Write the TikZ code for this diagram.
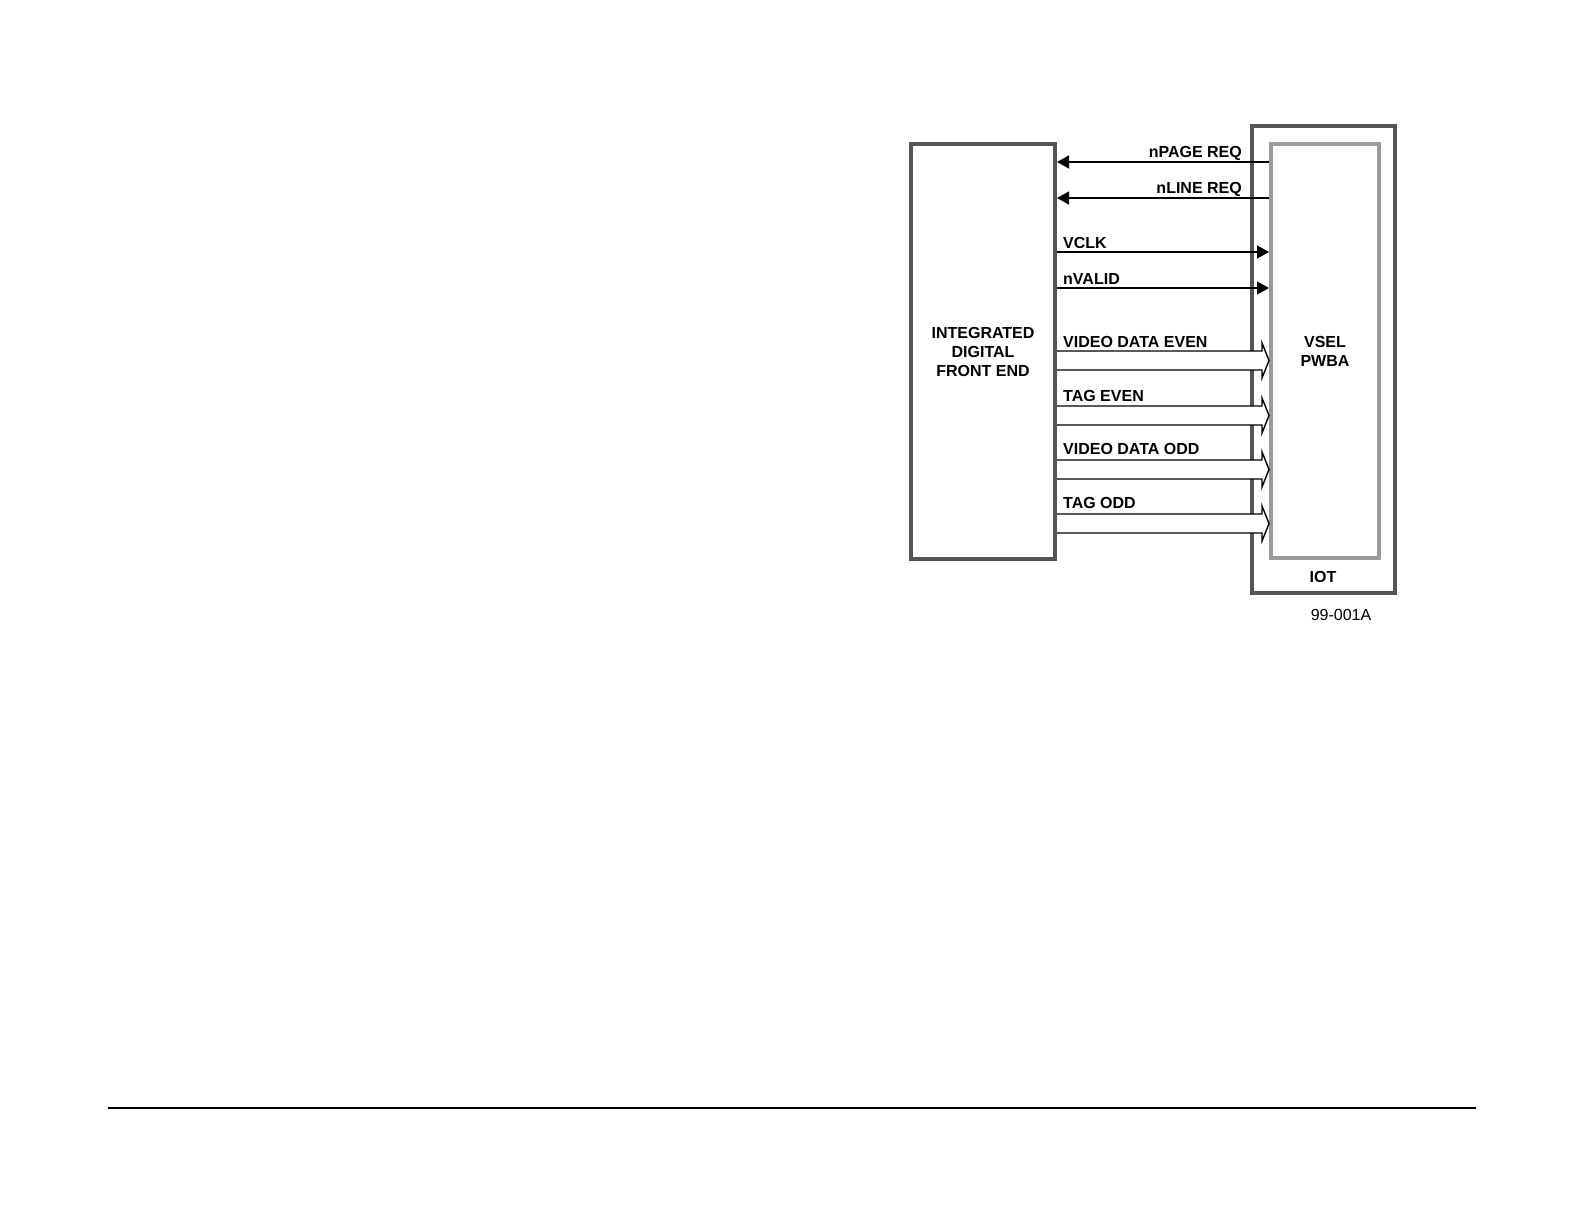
\documentclass[tikz,border=0pt]{standalone}
\usepackage{fontspec}
\setmainfont{Liberation Sans}
\usetikzlibrary{arrows.meta}
\definecolor{darkbox}{HTML}{555555}
\definecolor{lightbox}{HTML}{9A9A9A}
\begin{document}
\begin{tikzpicture}[x=1pt,y=-1pt,
  box/.style={draw=darkbox,line width=4pt,inner sep=0pt,align=center,font=\fontsize{16}{19}\selectfont\bfseries},
  lab/.style={inner sep=0pt,font=\fontsize{16}{19}\selectfont\bfseries},
  sig/.style={line width=1.4pt,-{Triangle[length=12pt,width=13pt]}},
  bus/.style={draw=black,fill=white,line width=1.4pt,line join=miter}]
\useasboundingbox (0,0) rectangle (1584,1224);
\node[box,minimum width=143pt,minimum height=467pt] (iot) at (1323.5,359.5) {};
\node[box,draw=lightbox,minimum width=108pt,minimum height=414pt] (vsel) at (1325,351) {VSEL\\PWBA};
\node[box,minimum width=144pt,minimum height=415pt] (idfe) at (983,351.5) {INTEGRATED\\DIGITAL\\FRONT END};
\node[lab] (iotlab) at (1323,577) {IOT};
\node[inner sep=0pt,font=\fontsize{16}{19}\selectfont] (fig) at (1341,615) {99-001A};
% single signal lines
\draw[sig] (vsel.west |- {(0,162)}) -- (idfe.east |- {(0,162)});
\draw[sig] (vsel.west |- {(0,198)}) -- (idfe.east |- {(0,198)});
\draw[sig] (idfe.east |- {(0,252)}) -- (vsel.west |- {(0,252)});
\draw[sig] (idfe.east |- {(0,288)}) -- (vsel.west |- {(0,288)});
% bus arrows
\foreach \t in {351,406,460,514}{
  \draw[bus] (idfe.east |- {(0,\t)}) -- (1262,\t) -- (1262,\t-8) -- (vsel.west |- {(0,\t+9.5)}) -- (1262,\t+27) -- (1262,\t+19) -- (idfe.east |- {(0,\t+19)});
}
% labels
\node[lab,anchor=base east] (l1) at (1242,157.5) {nPAGE REQ};
\node[lab,anchor=base east] (l2) at (1242,193.5) {nLINE REQ};
\node[lab,anchor=base west] (l3) at (1063,248.5) {VCLK};
\node[lab,anchor=base west] (l4) at (1063,284.5) {nVALID};
\node[lab,anchor=base west] (l5) at (1063,347.5) {VIDEO DATA EVEN};
\node[lab,anchor=base west] (l6) at (1063,401.5) {TAG EVEN};
\node[lab,anchor=base west] (l7) at (1063,454.5) {VIDEO DATA ODD};
\node[lab,anchor=base west] (l8) at (1063,508.5) {TAG ODD};
% bottom rule
\coordinate (r1) at (108,1108);
\coordinate (r2) at (1476,1108);
\draw[line width=1.5pt] (r1) -- (r2);
\end{tikzpicture}
\end{document}
